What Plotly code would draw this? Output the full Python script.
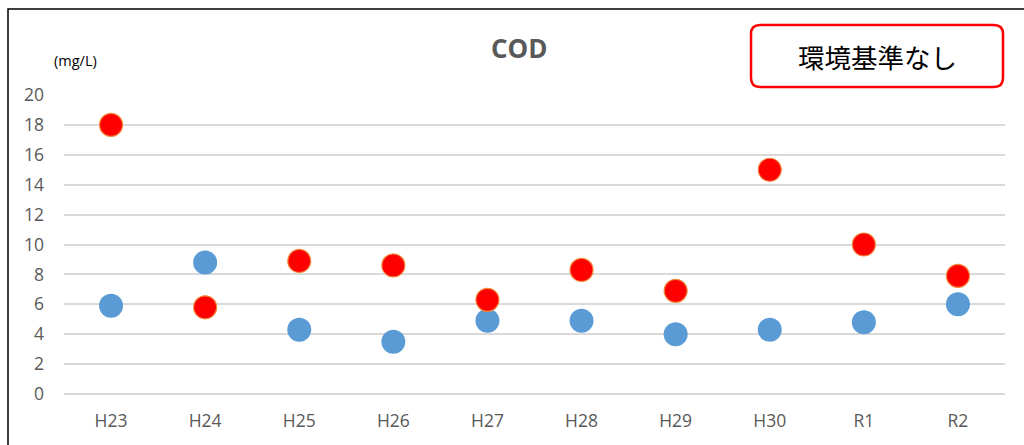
import plotly.graph_objects as go

categories = ["H23", "H24", "H25", "H26", "H27", "H28", "H29", "H30", "R1", "R2"]
series_blue = [5.9, 8.8, 4.3, 3.5, 4.9, 4.9, 4.0, 4.3, 4.8, 6.0]
series_red = [18.0, 5.8, 8.9, 8.6, 6.3, 8.3, 6.9, 15.0, 10.0, 7.9]
y_ticks = [0, 2, 4, 6, 8, 10, 12, 14, 16, 18, 20]

W, H = 1024, 445
L, R, T, B = 64, 19, 95, 51
pw, ph = W - L - R, H - T - B

def px(x):
    return (x - L) / pw

def py(y):
    return (H - B - y) / ph

fig = go.Figure()
fig.add_trace(go.Scatter(
    x=categories, y=series_blue, mode="markers",
    marker=dict(size=24, color="#5B9BD5", line=dict(width=0)),
    showlegend=False))
fig.add_trace(go.Scatter(
    x=categories, y=series_red, mode="markers",
    marker=dict(size=23, color="#FF0000", line=dict(width=1.2, color="#F08A3C")),
    showlegend=False))

font_family = "Open Sans, Noto Sans, sans-serif"

fig.update_layout(
    width=W, height=H,
    margin=dict(l=L, r=R, t=T, b=B),
    paper_bgcolor="white", plot_bgcolor="white",
    font=dict(family=font_family, color="#595959"),
    xaxis=dict(
        type="category", range=[-0.5, 9.5], showgrid=False, showline=False,
        zeroline=False, ticks="", tickfont=dict(size=17.5, color="#595959"),
        ticklabelstandoff=14, fixedrange=True),
    yaxis=dict(
        range=[0, 20], tickvals=y_ticks, showgrid=True, gridcolor="#D9D9D9",
        gridwidth=1.5, zeroline=True, zerolinecolor="#D9D9D9", zerolinewidth=1.5,
        showline=False, ticks="", tickfont=dict(size=17.5, color="#595959"),
        ticklabelstandoff=19, fixedrange=True),
)

# Title
fig.add_annotation(text="<b>COD</b>", xref="paper", yref="paper",
                   x=px(519), y=py(48), showarrow=False,
                   font=dict(size=26, color="#595959", family=font_family),
                   xanchor="center", yanchor="middle")
# Unit label
fig.add_annotation(text="(mg/L)", xref="paper", yref="paper",
                   x=px(75), y=py(60), showarrow=False,
                   font=dict(size=14.5, color="#000000", family=font_family),
                   xanchor="center", yanchor="middle")

# Outer frame (left and top edges)
fig.add_shape(type="path", xref="paper", yref="paper",
              path=f"M {px(8)} {py(446)} L {px(8)} {py(9)} L {px(1026)} {py(9)}",
              line=dict(color="#000000", width=1.5))

# Rounded red box
x0, x1, y0, y1 = px(751), px(1003), py(87), py(25)
rx, ry = 9 / pw, 9 / ph
path = (f"M {x0+rx} {y1} L {x1-rx} {y1} Q {x1} {y1} {x1} {y1-ry} "
        f"L {x1} {y0+ry} Q {x1} {y0} {x1-rx} {y0} L {x0+rx} {y0} "
        f"Q {x0} {y0} {x0} {y0+ry} L {x0} {y1-ry} Q {x0} {y1} {x0+rx} {y1} Z")
fig.add_shape(type="path", xref="paper", yref="paper", path=path,
              line=dict(color="#FF0000", width=2.5), fillcolor="white")
fig.add_annotation(text="環境基準なし", xref="paper", yref="paper",
                   x=px(877), y=py(56), showarrow=False,
                   font=dict(size=26.5, color="#000000", family="Noto Sans CJK JP"),
                   xanchor="center", yanchor="middle")

fig.write_html("out.html", config={"displayModeBar": False},
               post_script="document.body.style.margin='0px';document.body.style.overflow='hidden';")
